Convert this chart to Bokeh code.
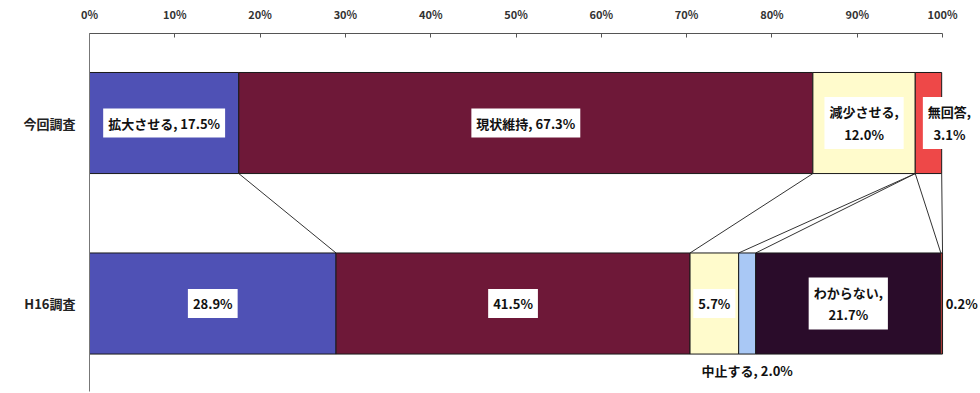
from bokeh.plotting import figure
from bokeh.models import Range1d, FixedTicker, Label
from bokeh.embed import file_html
from bokeh.resources import INLINE

# ---- data ----
categories = ["拡大させる", "現状維持", "減少させる", "中止する", "わからない", "無回答"]
surveys = ["今回調査", "H16調査"]
current = [17.5, 67.3, 12.0, 0.0, 0.0, 3.1]
h16 = [28.9, 41.5, 5.7, 2.0, 21.7, 0.2]
current_labels = ["拡大させる, 17.5%", "現状維持, 67.3%", "減少させる,\n12.0%", "", "", "無回答,\n3.1%"]
h16_labels = ["28.9%", "41.5%", "5.7%", "中止する, 2.0%", "わからない,\n21.7%", "0.2%"]
x_ticks = [0, 10, 20, 30, 40, 50, 60, 70, 80, 90, 100]
x_tick_labels = ["0%", "10%", "20%", "30%", "40%", "50%", "60%", "70%", "80%", "90%", "100%"]

# ---- style ----
colors = ["#4F51B5", "#6E1838", "#FFFBCC", "#A9C8F5", "#2A0C2A", "#EE4848"]
FONT = "Noto Sans CJK JP"
BAR_H = 0.56
Y_CUR, Y_H16 = 1, 0

p = figure(width=980, height=393, output_backend="svg", toolbar_location=None,
           x_range=Range1d(0, 104.45), y_range=Range1d(-0.4875, 1.496),
           x_axis_location="above", min_border_left=89, min_border_right=0,
           min_border_top=33, min_border_bottom=2)
p.outline_line_color = None
p.xgrid.grid_line_color = None
p.ygrid.grid_line_color = None
p.background_fill_color = "white"
p.border_fill_color = "white"


def cumulate(vals):
    lefts, rights, s = [], [], 0.0
    for v in vals:
        lefts.append(s)
        s += v
        rights.append(s)
    return lefts, rights


cur_l, cur_r = cumulate(current)
h16_l, h16_r = cumulate(h16)

# series lines connecting segment ends
p.segment(x0=cur_r, y0=[Y_CUR - BAR_H / 2] * len(cur_r),
          x1=h16_r, y1=[Y_H16 + BAR_H / 2] * len(h16_r),
          line_color="#333333", line_width=1)

for i, cat in enumerate(categories):
    if current[i] > 0:
        p.hbar(y=[Y_CUR], left=[cur_l[i]], right=[cur_r[i]], height=BAR_H,
               fill_color=colors[i], line_color="#1a1a1a", line_width=1)
    if h16[i] > 0:
        p.hbar(y=[Y_H16], left=[h16_l[i]], right=[h16_r[i]], height=BAR_H,
               fill_color=colors[i], line_color="#1a1a1a", line_width=1)

# label placement tweaks (screen px offsets)
cur_offsets = {5: (21, 0)}
h16_offsets = {3: (0, -67), 5: (20, 0)}
no_box = {("h16", 3), ("h16", 5)}


def add_labels(texts, lefts, rights, y, offs, tag):
    for i, t in enumerate(texts):
        if not t:
            continue
        dx, dy = offs.get(i, (0, 0))
        boxed = (tag, i) not in no_box
        lab = Label(x=(lefts[i] + rights[i]) / 2, y=y, text=t,
                    x_offset=dx, y_offset=dy,
                    text_align="center", text_baseline="middle",
                    text_font=FONT, text_font_style="bold", text_font_size="13px",
                    text_color="#111111", text_line_height=1.2,
                    background_fill_color="white" if boxed else None,
                    padding=5 if boxed else 0)
        p.add_layout(lab)


add_labels(current_labels, cur_l, cur_r, Y_CUR, cur_offsets, "cur")
add_labels(h16_labels, h16_l, h16_r, Y_H16, h16_offsets, "h16")

# x axis on top
xa = p.xaxis[0]
xa.bounds = (0, 100)
xa.ticker = FixedTicker(ticks=x_ticks)
xa.major_label_overrides = {t: l for t, l in zip(x_ticks, x_tick_labels)}
xa.major_tick_in = 4
xa.major_tick_out = 0
xa.minor_tick_line_color = None
xa.major_label_standoff = 12
xa.major_label_text_font = FONT
xa.major_label_text_font_style = "bold"
xa.major_label_text_font_size = "11px"
xa.major_label_text_color = "#333333"
xa.axis_line_color = "#555555"
xa.major_tick_line_color = "#555555"

# y axis on left
ya = p.yaxis[0]
ya.ticker = FixedTicker(ticks=[Y_CUR, Y_H16])
ya.major_label_overrides = {Y_CUR: surveys[0], Y_H16: surveys[1]}
ya.major_tick_in = 0
ya.major_tick_out = 0
ya.minor_tick_line_color = None
ya.major_label_standoff = 14
ya.major_label_text_font = FONT
ya.major_label_text_font_style = "bold"
ya.major_label_text_font_size = "13px"
ya.major_label_text_color = "#222222"
ya.axis_line_color = "#777777"

open("out.html", "w").write(file_html(p, INLINE))
